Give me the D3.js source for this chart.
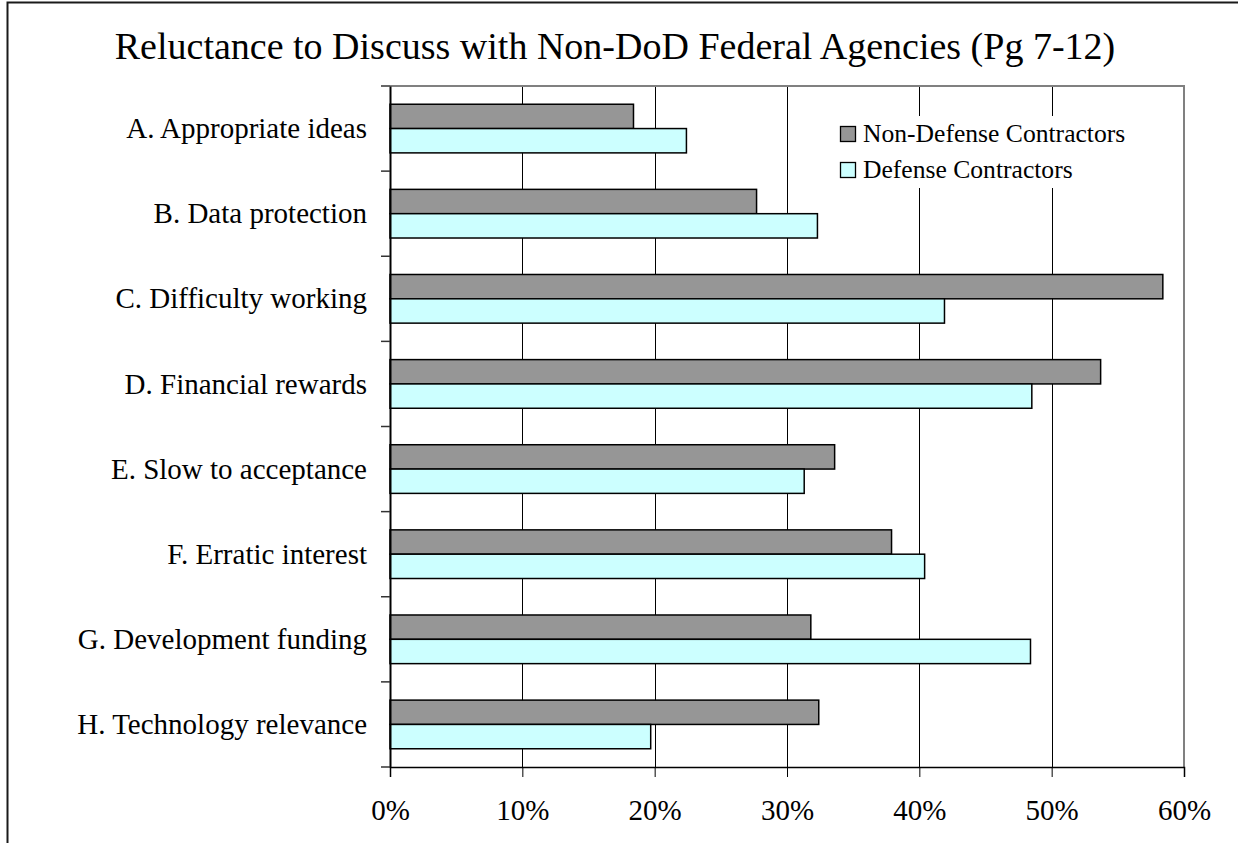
<!DOCTYPE html>
<html>
<head>
<meta charset="utf-8">
<script src="https://cdn.jsdelivr.net/npm/d3@7"></script>
<style>
  html, body { margin: 0; padding: 0; background: #fff; }
  svg { display: block; }
  text { font-family: "Liberation Serif", "Times New Roman", serif; fill: #000; }
</style>
</head>
<body>
<svg id="chart" width="1238" height="843"></svg>
<script>
// Survey responses: share reluctant to discuss with non-DoD federal agencies
const categories = [
  "A. Appropriate ideas",
  "B. Data protection",
  "C. Difficulty working",
  "D. Financial rewards",
  "E. Slow to acceptance",
  "F. Erratic interest",
  "G. Development funding",
  "H. Technology relevance"
];
const seriesNames = ["Non-Defense Contractors", "Defense Contractors"];
const nonDefense = [0.184, 0.277, 0.584, 0.537, 0.336, 0.379, 0.318, 0.324];
const defense    = [0.224, 0.323, 0.419, 0.485, 0.313, 0.404, 0.484, 0.197];
const xTicks = [0, 0.1, 0.2, 0.3, 0.4, 0.5, 0.6];
const titleText = "Reluctance to Discuss with Non-DoD Federal Agencies (Pg 7-12)";

const colors = ["#969696", "#CCFFFF"];
const rows = categories.map((c, i) => ({ cat: c, vals: [nonDefense[i], defense[i]] }));

const svg = d3.select("#chart");
const plot = { left: 390, right: 1184, top: 86, bottom: 767 };

// outer frame (top and left edges)
svg.append("path")
  .attr("d", "M7.5,843 L7.5,2.5 L1238,2.5")
  .attr("fill", "none").attr("stroke", "#1a1a1a").attr("stroke-width", 2);

const x = d3.scaleLinear().domain([0, 0.6]).range([plot.left, plot.right]);
const y = d3.scaleBand().domain(categories).range([plot.top, plot.bottom]).paddingInner(0).paddingOuter(0);
const barH = y.bandwidth() / 3.5;            // gap width 150% of a bar
const sub = d3.scaleBand().domain([0, 1]).range([0, barH * 2]);

// vertical gridlines
svg.append("g").selectAll("line")
  .data(xTicks.slice(1, -1))
  .join("line")
  .attr("x1", d => Math.round(x(d)) + 0.5).attr("x2", d => Math.round(x(d)) + 0.5)
  .attr("y1", plot.top).attr("y2", plot.bottom)
  .attr("stroke", "#000").attr("stroke-width", 1);

// plot area border: top and right
svg.append("path")
  .attr("d", `M${plot.left},${plot.top} L${plot.right},${plot.top} L${plot.right},${plot.bottom}`)
  .attr("fill", "none").attr("stroke", "#808080").attr("stroke-width", 2);

// legend box with white background
const lg = svg.append("g").attr("transform", "translate(832,116)");
lg.append("rect").attr("x", 0).attr("y", 0).attr("width", 300).attr("height", 72).attr("fill", "#fff");
seriesNames.forEach((name, i) => {
  const cy = 18 + i * 36;
  lg.append("rect")
    .attr("x", 8.5).attr("y", cy - 7.5).attr("width", 15).attr("height", 15)
    .attr("fill", colors[i]).attr("stroke", "#000").attr("stroke-width", 1.3);
  lg.append("text")
    .attr("x", 31).attr("y", cy).attr("dy", "0.33em")
    .attr("font-size", 25.6).text(name);
});

// bars
const groups = svg.append("g").selectAll("g")
  .data(rows)
  .join("g")
  .attr("transform", d => `translate(0,${y(d.cat) + (y.bandwidth() - barH * 2) / 2})`);
groups.selectAll("rect")
  .data(d => d.vals.map((v, k) => ({ v, k })))
  .join("rect")
  .attr("x", x(0))
  .attr("y", d => sub(d.k))
  .attr("width", d => x(d.v) - x(0))
  .attr("height", sub.bandwidth())
  .attr("fill", d => colors[d.k])
  .attr("stroke", "#000").attr("stroke-width", 1.5);

// y axis (category)
const yAxis = d3.axisLeft(y).tickSize(0).tickFormat("");
const yg = svg.append("g").attr("transform", `translate(${plot.left},0)`).call(yAxis);
yg.select(".domain").attr("stroke", "#000").attr("stroke-width", 2);
// category boundary ticks
svg.append("g").selectAll("line")
  .data(d3.range(categories.length + 1))
  .join("line")
  .attr("x1", plot.left - 9).attr("x2", plot.left)
  .attr("y1", i => plot.top + i * y.step()).attr("y2", i => plot.top + i * y.step())
  .attr("stroke", "#333").attr("stroke-width", 1.5);
// category labels
svg.append("g").selectAll("text")
  .data(categories)
  .join("text")
  .attr("x", 367)
  .attr("y", d => y(d) + y.bandwidth() / 2)
  .attr("dy", "0.33em")
  .attr("text-anchor", "end")
  .attr("font-size", 29)
  .text(d => d);

// x axis
const xAxis = d3.axisBottom(x).tickValues(xTicks).tickSize(10).tickPadding(0).tickFormat(d3.format(".0%"));
const xg = svg.append("g").attr("transform", `translate(0,${plot.bottom})`).call(xAxis);
xg.select(".domain").attr("stroke", "#000").attr("stroke-width", 1.5);
xg.selectAll(".tick line").attr("stroke", "#000").attr("stroke-width", 1);
xg.selectAll(".tick text")
  .attr("y", 53).attr("dy", 0)
  .attr("font-size", 29)
  .attr("font-family", "Liberation Serif, Times New Roman, serif")
  .attr("fill", "#000");

// title
svg.append("text")
  .attr("x", 615).attr("y", 59)
  .attr("text-anchor", "middle")
  .attr("font-size", 38)
  .text(titleText);
</script>
</body>
</html>
